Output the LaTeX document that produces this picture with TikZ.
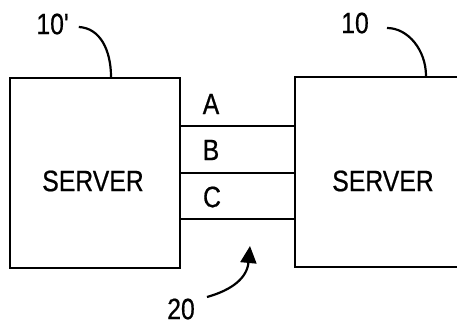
\documentclass[tikz,border=0pt]{standalone}
\usepackage{fontspec}
\setmainfont{Liberation Sans}[FakeStretch=0.84,FakeBold=0.6]
\usepackage{tikz}
\usetikzlibrary{positioning,arrows.meta}

\begin{document}
\begin{tikzpicture}[
  x=1pt, y=-1pt,
  server/.style={minimum width=170pt, minimum height=190pt, inner sep=0pt},
  lbl/.style={inner sep=0pt, font=\fontsize{29.5}{32}\selectfont},
  wire/.style={line width=2.2pt},
  lead/.style={line width=2.2pt},
  arr/.style={line width=2.2pt, -{Triangle[length=17pt,width=16pt]}}
]
  \useasboundingbox (0,0) rectangle (457,326);

  % Servers
  \node[server, draw, line width=2.2pt] (srvL) at (95,173) {};
  \node[lbl] (txtL) at (93,181) {SERVER};
  \node[server] (srvR) at (380,172) {};
  \node[lbl] (txtR) at (383,181) {SERVER};
  \draw[wire] (457,77) -- (295,77) -- (295,267) -- (457,267);

  % Channels
  \coordinate (yA) at (0,126);
  \coordinate (yB) at (0,173);
  \coordinate (yC) at (0,219);
  \foreach \c in {yA,yB,yC}
    \draw[wire] (srvL.east |- \c) -- (srvR.west |- \c);
  \node[lbl] (chA) at (211,104) {A};
  \node[lbl] (chB) at (211,150) {B};
  \node[lbl] (chC) at (212,197) {C};

  % Reference numerals
  \node[lbl] (refL) at (53,24) {10\textquotesingle};
  \node[lbl] (refR) at (355,23) {10};
  \node[lbl] (refLink) at (181,309) {20};
  \coordinate (tipL) at (111,77);
  \coordinate (tipR) at (426,76);
  \coordinate (tipLink) at (250,246);
  \draw[lead] (refL.east) ++(9,3) .. controls (100,28) and (111,50) .. (tipL);
  \draw[lead] (refR.east) ++(18,5) .. controls (408,28) and (426,50) .. (tipR);
  \draw[arr] (refLink.east) ++(12,-12) .. controls (232,290) and (247,278) .. (tipLink);
\end{tikzpicture}
\end{document}
